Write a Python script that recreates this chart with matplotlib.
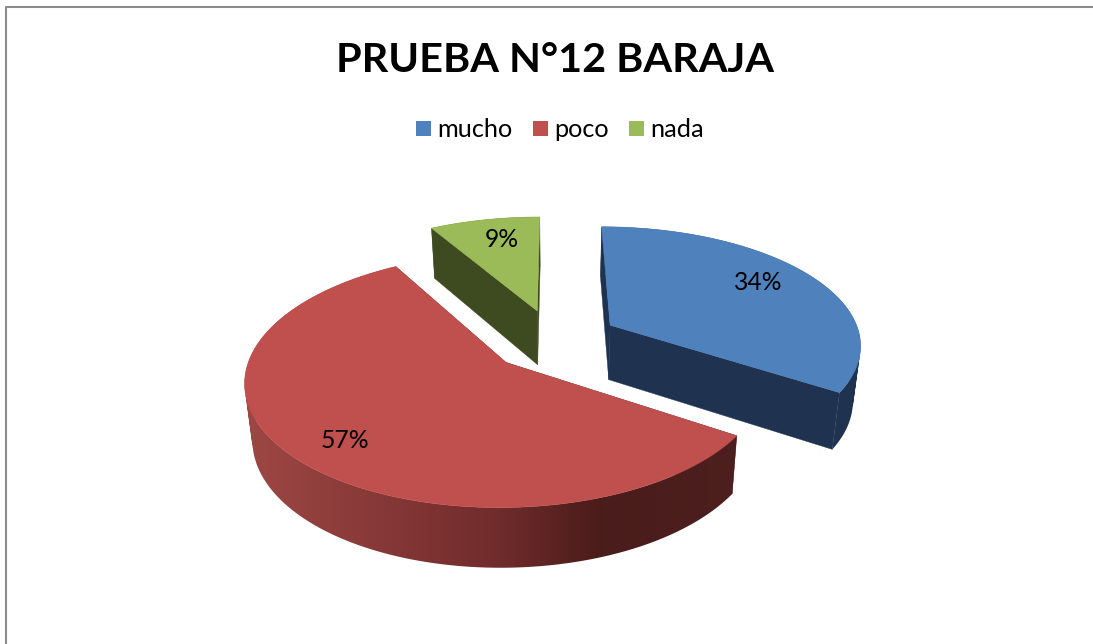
import numpy as np
import matplotlib
matplotlib.use("Agg")
import matplotlib.pyplot as plt
from matplotlib.patches import Polygon, Rectangle, PathPatch
from matplotlib.path import Path

plt.rcParams['font.family'] = ['Lato', 'DejaVu Sans']

# data
title = "PRUEBA N°12 BARAJA"
categories = ["mucho", "poco", "nada"]
values = [34.0, 57.4, 8.6]

top_colors = ["#4f81bd", "#c0504d", "#9bbb59"]
side_colors = ["#1f3350", None, "#3e4a20"]

# projection of the tilted pie, in image pixels
CX, CY = 554, 340
A, B = 251, 120.7
PERSP = 0.148
EXPLODE = 0.26
DEPTH = 55
# label spots on the pie plane
label_u = [0.88, -0.75, -0.243]
label_v = [-0.52, 0.75, -0.97]


def project(u, v, down=False):
    f = 1 + PERSP * v
    x = A * u * f
    y = B * v * f
    if down:
        return CX + x * 0.975, CY + y + DEPTH * (1 + 0.08 * v)
    return CX + x, CY + y


def rim_path(u, v):
    # union of small quads, all wound the same way so none of them cancel out
    xt, yt = project(u, v)
    xd, yd = project(u, v, True)
    quads = []
    for j in range(len(u) - 1):
        q = np.array([[xt[j], yt[j]], [xt[j + 1], yt[j + 1]], [xd[j + 1], yd[j + 1]], [xd[j], yd[j]], [xd[j], yd[j]]])
        area = np.sum(q[:-1, 0] * np.roll(q[:-1, 1], -1) - np.roll(q[:-1, 0], -1) * q[:-1, 1])
        if area < 0:
            q[:4] = q[:4][::-1]
        q[4] = q[0]
        quads.append(Path(q, closed=True))
    return Path.make_compound_path(*quads)


# shading of the red rim from left to right
grad_x = np.arange(230, 760)
grad_r = np.interp(grad_x, [244, 500, 600, 740], [0.62, 0.44, 0.29, 0.30])
grad_g = np.interp(grad_x, [244, 500, 600, 740], [0.28, 0.17, 0.11, 0.125])
grad_b = np.interp(grad_x, [244, 500, 600, 740], [0.27, 0.17, 0.105, 0.12])
grad = np.dstack([grad_r, grad_g, grad_b])

fig = plt.figure(figsize=(10.93, 6.44), dpi=100)
ax = fig.add_axes([0, 0, 1, 1])

# chart frame, only top and left fall inside the picture
ax.plot([5.5, 5.5, 1093], [644, 6.5, 6.5], color="#8c8c8c", lw=1.5)

fracs = np.array(values) / sum(values)
edges = np.concatenate([[0], np.cumsum(fracs)]) * 2 * np.pi

# back slices first, red one goes on top
for i in [2, 0, 1]:
    base_z = i * 3
    t = np.linspace(edges[i], edges[i + 1], 300)
    mid = (edges[i] + edges[i + 1]) / 2
    ou, ov = EXPLODE * np.sin(mid), -EXPLODE * np.cos(mid)
    u, v = ou + np.sin(t), ov - np.cos(t)
    side = side_colors[i] or "#5a2422"

    # radial walls
    for j in [0, -1]:
        wall = [project(ou, ov), project(u[j], v[j]),
                project(u[j], v[j], True), project(ou, ov, True)]
        ax.add_patch(Polygon(wall, closed=True, fc=side, ec=side, lw=0.3, zorder=base_z))

    # outer rim
    rim = rim_path(u, v)
    if side_colors[i]:
        ax.add_patch(PathPatch(rim, fc=side, ec='none', zorder=base_z + 1))
    else:
        im = ax.imshow(grad, extent=(grad_x[0], grad_x[-1], 644, 0), aspect='auto', zorder=base_z + 1)
        im.set_clip_path(rim, transform=ax.transData)

    # top face
    tx, ty = project(np.r_[ou, u], np.r_[ov, v])
    ax.add_patch(Polygon(np.c_[tx, ty], closed=True, fc=top_colors[i], ec=top_colors[i], lw=0.4, zorder=base_z + 2))

    lx, ly = project(label_u[i], label_v[i])
    ax.text(lx, ly, f"{values[i]:.0f}%", fontsize=17.8, color="black", ha='center', va='center', zorder=20)

ax.text(555, 60, title, fontsize=29.8, fontweight='bold', ha='center', va='center', color="black")

# legend
legend_x = [416, 533, 629]
for name, col, x0 in zip(categories, top_colors, legend_x):
    ax.add_patch(Rectangle((x0, 121), 15, 15, fc=col, ec='none'))
    ax.text(x0 + 21, 129, name, fontsize=18.2, ha='left', va='center', color="black")

ax.set_xlim(0, 1093)
ax.set_ylim(644, 0)
ax.axis('off')

fig.savefig("out.png", dpi=100)
